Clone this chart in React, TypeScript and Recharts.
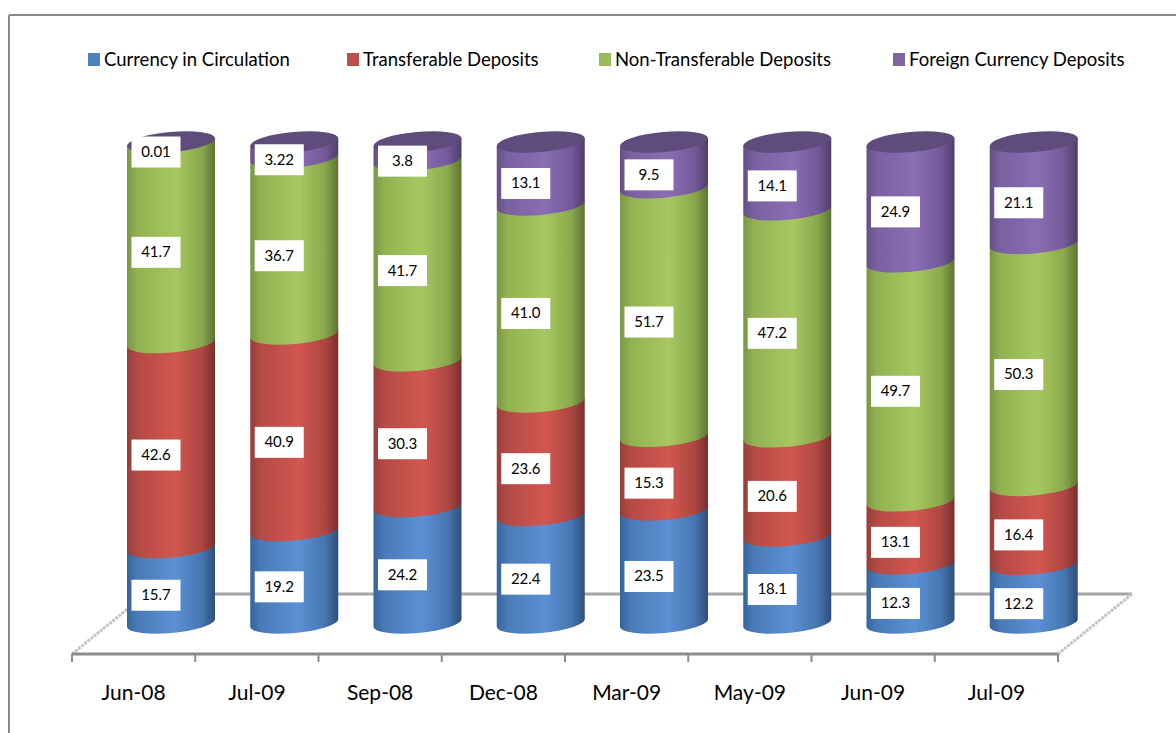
import React from 'react';
import { BarChart, Bar, XAxis, YAxis, LabelList, Customized } from 'recharts';

const categories = ['Jun-08', 'Jul-09', 'Sep-08', 'Dec-08', 'Mar-09', 'May-09', 'Jun-09', 'Jul-09'];
const currency = [15.7, 19.2, 24.2, 22.4, 23.5, 18.1, 12.3, 12.2];
const transferable = [42.6, 40.9, 30.3, 23.6, 15.3, 20.6, 13.1, 16.4];
const nonTransferable = [41.7, 36.7, 41.7, 41.0, 51.7, 47.2, 49.7, 50.3];
const foreign = [0.01, 3.22, 3.8, 13.1, 9.5, 14.1, 24.9, 21.1];

const seriesNames = ['Currency in Circulation', 'Transferable Deposits', 'Non-Transferable Deposits', 'Foreign Currency Deposits'];
const seriesKeys = ['currency', 'transferable', 'nonTransferable', 'foreign'];
const legendColors = ['#4f81bd', '#c0504d', '#9bbb59', '#8064a2'];
const shades = [
  ['#36649c', '#4a7bb8', '#5b90d4', '#4676b0', '#2d4f7c'],
  ['#973e3b', '#b44a46', '#d2574f', '#ad4642', '#7a2f2d'],
  ['#7a9644', '#92b252', '#a7c860', '#89a84c', '#5d7331'],
  ['#654f87', '#7a61a0', '#8b6db3', '#73599a', '#4f3d68'],
];
const topColor = '#5f4b7c';
const legendX = [88, 347, 599, 893];

const data = categories.map((label, i) => ({
  label,
  currency: currency[i],
  transferable: transferable[i],
  nonTransferable: nonTransferable[i],
  foreign: foreign[i],
}));

const W = 1176;
const H = 733;
const PL = 109;
const PR = 1095;
const PT = 152;
const PB = 633;
const DX = 37;
const DY = 30;
const RY = 10;
const TILT = 4;
const FONT = 'Lato, "Open Sans", sans-serif';

const fmt = (v: number) => (Number.isInteger(Math.round(v * 1000) / 100) ? v.toFixed(1) : String(v));

function cylPath(x: number, w: number, yTop: number, yBot: number) {
  const L = x;
  const R = x + w;
  const rx = w / 2;
  const a = Math.sqrt(rx * rx + TILT * TILT);
  const phi = (-Math.atan(TILT / rx) * 180) / Math.PI;
  const tc = yTop - RY;
  const bc = yBot - RY;
  return `M${L},${tc + TILT} L${R},${tc - TILT} L${R},${bc - TILT} A${a},${RY} ${phi} 0 1 ${L},${bc + TILT} Z`;
}

function makeShape(si: number) {
  return (props: any) => {
    const { x, y, width, height } = props;
    if (x == null || y == null) return <g />;
    const yTop = y;
    const yBot = y + height;
    const rx = width / 2;
    const a = Math.sqrt(rx * rx + TILT * TILT);
    const phi = (-Math.atan(TILT / rx) * 180) / Math.PI;
    const cx = x + rx;
    return (
      <g>
        <path d={cylPath(x, width, yTop, yBot)} fill={`url(#grad${si})`} />
        {si === 3 && (
          <ellipse cx={cx} cy={yTop - RY} rx={a} ry={RY} fill={topColor} transform={`rotate(${phi} ${cx} ${yTop - RY})`} />
        )}
      </g>
    );
  };
}

const renderLabel = (props: any) => {
  const vb = props.viewBox || props;
  const x = vb.x ?? props.x;
  const y = vb.y ?? props.y;
  const width = vb.width ?? props.width;
  const height = vb.height ?? props.height;
  const cx = x + width / 2 - 15;
  const cy = y + height / 2;
  return (
    <g>
      <rect x={cx - 24.5} y={cy - 15.5} width={49} height={31} fill="#ffffff" />
      <text x={cx} y={cy + 5} textAnchor="middle" fontFamily={FONT} fontSize={15} fill="#000000">
        {fmt(Number(props.value))}
      </text>
    </g>
  );
};

const renderTick = (props: any) => {
  const { x, payload } = props;
  return (
    <text x={x - DX} y={700} textAnchor="middle" fontFamily={FONT} fontSize={21} fill="#000000">
      {payload.value}
    </text>
  );
};

const Background = () => {
  const fy = PB + 21;
  const by = fy - 2 * DY;
  const fl = PL - DX;
  const fr = PR - DX;
  const step = (PR - PL) / categories.length;
  const ticks = [];
  for (let k = 0; k <= categories.length; k++) {
    const tx = fl + k * step;
    ticks.push(<line key={k} x1={tx} y1={fy} x2={tx} y2={fy + 8} stroke="#8c8c8c" strokeWidth={2} />);
  }
  return (
    <g>
      <rect x={0} y={0} width={W} height={H} fill="#ffffff" />
      <line x1={9} y1={15} x2={W} y2={15} stroke="#8a8a8a" strokeWidth={2} />
      <line x1={9} y1={15} x2={9} y2={H} stroke="#8a8a8a" strokeWidth={2} />
      <line x1={fl + 2 * DX} y1={by} x2={fr + 2 * DX} y2={by} stroke="#a6a6a6" strokeWidth={3} />
      <line x1={fl} y1={fy} x2={fl + 2 * DX} y2={by} stroke="#c4c4c4" strokeWidth={3} strokeDasharray="3 1" />
      <line x1={fr} y1={fy} x2={fr + 2 * DX} y2={by} stroke="#c4c4c4" strokeWidth={3} strokeDasharray="3 1" />
      <line x1={fl} y1={fy} x2={fr} y2={fy} stroke="#8c8c8c" strokeWidth={3} />
      {ticks}
      {seriesNames.map((n, i) => (
        <g key={n}>
          <rect x={legendX[i]} y={53} width={12} height={13} fill={legendColors[i]} />
          <text x={legendX[i] + 16} y={66} fontFamily={FONT} fontSize={18.5} fill="#000000">
            {n}
          </text>
        </g>
      ))}
    </g>
  );
};

export default function App() {
  return (
    <div style={{ position: 'absolute', left: 0, top: 0, width: W, height: H, background: '#ffffff' }}>
      <BarChart
        width={W}
        height={H}
        data={data}
        stackOffset="expand"
        barSize={88}
        margin={{ top: PT, right: W - PR, left: PL, bottom: H - PB - 30 }}
      >
        <defs>
          {shades.map((s, i) => (
            <linearGradient key={i} id={`grad${i}`} x1="0" y1="0" x2="1" y2="0">
              <stop offset="0%" stopColor={s[0]} />
              <stop offset="12%" stopColor={s[1]} />
              <stop offset="55%" stopColor={s[2]} />
              <stop offset="85%" stopColor={s[3]} />
              <stop offset="100%" stopColor={s[4]} />
            </linearGradient>
          ))}
        </defs>
        <Customized component={Background} />
        <XAxis dataKey="label" axisLine={false} tickLine={false} height={30} tick={renderTick} interval={0} />
        <YAxis hide domain={[0, 1]} />
        {seriesKeys.map((k, i) => (
          <Bar key={k} dataKey={k} name={seriesNames[i]} stackId="a" isAnimationActive={false} shape={makeShape(i)}>
            <LabelList dataKey={k} content={renderLabel} />
          </Bar>
        ))}
      </BarChart>
    </div>
  );
}
